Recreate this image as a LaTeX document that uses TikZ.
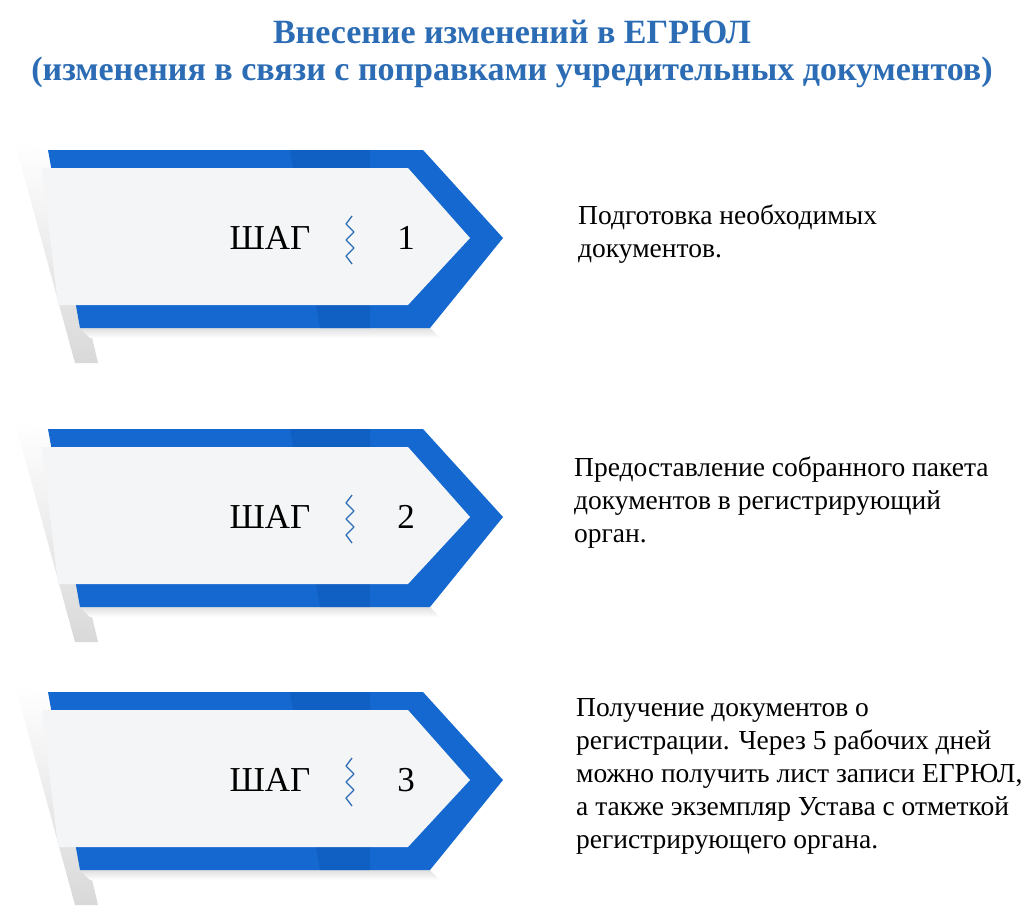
\documentclass[tikz,border=0pt]{standalone}
\usepackage{fontspec}
\setmainfont{Liberation Serif}
\definecolor{tblue}{HTML}{2B6CB4}
\definecolor{cblue}{HTML}{1468D0}
\definecolor{cdark}{HTML}{0D57B5}
\definecolor{wfill}{HTML}{F4F5F6}
\begin{document}
\begin{tikzpicture}[x=1pt,y=-1pt,
  ttl/.style={font=\fontsize{34}{36}\selectfont\bfseries,text=tblue},
  body/.style={font=\fontsize{27.5}{33}\selectfont,anchor=north west,align=left,inner sep=0pt},
  lab/.style={font=\fontsize{35}{35}\selectfont}]
\useasboundingbox (0,0) rectangle (1024,915);
\fill[white] (0,0) rectangle (1024,915);
\node[ttl] (t1) at (512,32) {Внесение изменений в ЕГРЮЛ};
\node[ttl] (t2) at (512,72) {(изменения в связи с поправками учредительных документов)};
\foreach \c/\n in {238/1,517/2,780/3}{
  \begin{scope}[yshift=-\c]
    \shade[left color=white,right color=gray!30,shading angle=0]
      (15,-95) -- (48,-88) -- (98,125) -- (75,125) -- cycle;
    \shade[top color=gray!25,bottom color=white] (80,90) -- (430,90) -- (440,100) -- (90,100) -- cycle;
    \fill[cblue] (48,-88) -- (423,-88) -- (503,0) -- (430,90) -- (80,90) -- cycle;
    \fill[cdark,opacity=0.5] (290,-88) -- (370,-88) -- (370,90) -- (320,90) -- cycle;
    \fill[wfill] (42,-70) -- (408,-70) -- (470,0) -- (408,67) -- (58,67) -- cycle;
    \node[lab] (s\n) at (270,0) {ШАГ};
    \node[lab] (n\n) at (406,0) {\n};
    \draw[tblue,line width=1.3pt,line join=round] (352,-22) -- (346,-14) -- (354,-6) -- (346,2) -- (354,10) -- (346,18) -- (352,26);
  \end{scope}
}
\node[body] (d1) at (578,205) {Подготовка необходимых\\документов.};
\node[body] (d2) at (574,457) {Предоставление собранного пакета\\документов в регистрирующий\\орган.};
\node[body] (d3) at (576,698) {Получение документов о\\регистрации. Через 5 рабочих дней\\можно получить лист записи ЕГРЮЛ,\\а также экземпляр Устава с отметкой\\регистрирующего органа.};
\end{tikzpicture}
\end{document}
